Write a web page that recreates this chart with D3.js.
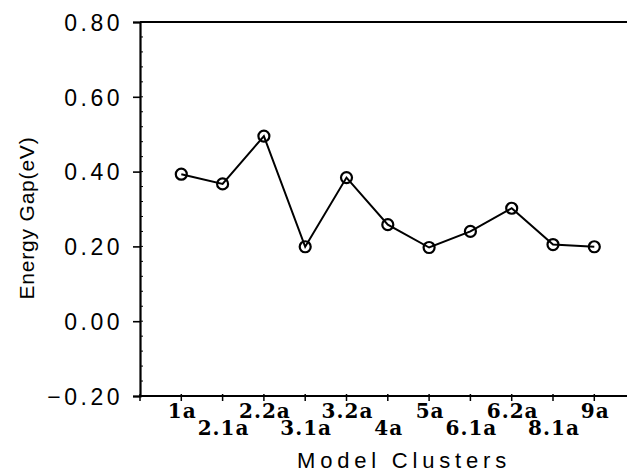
<!DOCTYPE html>
<html>
<head>
<meta charset="utf-8">
<script src="https://cdn.jsdelivr.net/npm/d3@7"></script>
<style>
    body { margin: 0; background: #fff; }
</style>
</head>
<body>
<div id="chart"></div>
<script>
// Chart data
var clusters = ["1a", "2.1a", "2.2a", "3.1a", "3.2a", "4a", "5a", "6.1a", "6.2a", "8.1a", "9a"];
var gaps = [0.393, 0.367, 0.495, 0.199, 0.384, 0.258, 0.197, 0.240, 0.302, 0.205, 0.199];
var yTicks = [-0.20, 0.00, 0.20, 0.40, 0.60, 0.80];

// Variables
var svgWidth = 627;
var svgHeight = 475;
var margins = { top: 22, bottom: 79, left: 140, right: 0 };
var height = svgHeight - margins.top - margins.bottom;
var width = svgWidth - margins.left - margins.right;

var svg = d3.select("#chart")
    .append("svg")
    .attr("width", svgWidth)
    .attr("height", svgHeight)
    .append("g")
    .attr("transform", "translate(" + margins.left + "," + margins.top + ")");

// Scales: positions 1..11 for clusters, 0 is the axis origin
var xScale = d3.scaleLinear()
    .domain([0, 12])
    .range([0, 41.3 * 12]);
var yScale = d3.scaleLinear()
    .domain([-0.20, 0.80])
    .range([height, 0]);

// Minor y ticks inside the frame
var minor = d3.range(-0.20, 0.8001, 0.04);
svg.append("g")
    .selectAll("line")
    .data(minor)
    .enter()
    .append("line")
    .attr("x1", 0)
    .attr("x2", 3)
    .attr("y1", d => yScale(d))
    .attr("y2", d => yScale(d))
    .attr("stroke", "#000")
    .attr("stroke-width", 1);

// Left axis
var yAxis = svg.append("g")
    .call(d3.axisLeft(yScale)
        .tickValues(yTicks)
        .tickSize(7)
        .tickPadding(10)
        .tickFormat(d3.format(".2f")));
yAxis.select(".domain").attr("stroke-width", 2.2);
yAxis.selectAll(".tick line").attr("stroke-width", 1.6);
yAxis.selectAll("text")
    .attr("font-family", "Liberation Sans, Arial, sans-serif")
    .attr("font-size", 23)
    .attr("letter-spacing", 3.5)
    .attr("fill", "#000")
    .attr("dy", "0.36em")
    .text(d => d3.format(".2f")(d).replace("-", "\u2212"));

// Top and bottom frame lines
svg.append("line")
    .attr("x1", 0).attr("x2", width)
    .attr("y1", yScale(0.80)).attr("y2", yScale(0.80))
    .attr("stroke", "#000").attr("stroke-width", 2);
svg.append("line")
    .attr("x1", 0).attr("x2", width)
    .attr("y1", yScale(-0.20)).attr("y2", yScale(-0.20))
    .attr("stroke", "#000").attr("stroke-width", 2.2);

// Bottom ticks
var xTickIdx = d3.range(0, 12);
svg.append("g")
    .selectAll("line")
    .data(xTickIdx)
    .enter()
    .append("line")
    .attr("x1", d => xScale(d))
    .attr("x2", d => xScale(d))
    .attr("y1", height - 2)
    .attr("y2", height + 5)
    .attr("stroke", "#000")
    .attr("stroke-width", 1.5);

// Staggered cluster labels
svg.append("g")
    .selectAll("text")
    .data(clusters)
    .enter()
    .append("text")
    .attr("x", (d, i) => xScale(i + 1) + 1)
    .attr("y", (d, i) => height + (i % 2 == 0 ? 22 : 39))
    .attr("text-anchor", "middle")
    .attr("font-family", "DejaVu Serif, serif")
    .attr("font-weight", "bold")
    .attr("font-size", 20)
    .attr("letter-spacing", 1)
    .text(d => d);

// Data line
var line = d3.line()
    .x((d, i) => xScale(i + 1))
    .y(d => yScale(d));

svg.append("path")
    .attr("d", line(gaps))
    .attr("fill", "none")
    .attr("stroke", "#000")
    .attr("stroke-width", 2);

// Circle markers
svg.append("g")
    .selectAll("circle")
    .data(gaps)
    .enter()
    .append("circle")
    .attr("cx", (d, i) => xScale(i + 1))
    .attr("cy", d => yScale(d))
    .attr("r", 5.5)
    .attr("fill", "none")
    .attr("stroke", "#000")
    .attr("stroke-width", 2.2);

// Axis titles
svg.append("text")
    .attr("x", 264)
    .attr("y", height + 72)
    .attr("text-anchor", "middle")
    .attr("font-family", "Liberation Sans, Arial, sans-serif")
    .attr("font-size", 22)
    .attr("letter-spacing", 4.8)
    .text("Model  Clusters");

svg.append("text")
    .attr("transform", "rotate(-90)")
    .attr("x", -196)
    .attr("y", -106)
    .attr("text-anchor", "middle")
    .attr("font-family", "Liberation Sans, Arial, sans-serif")
    .attr("font-size", 21)
    .attr("letter-spacing", 0.8)
    .text("Energy Gap(eV)");
</script>
</body>
</html>
